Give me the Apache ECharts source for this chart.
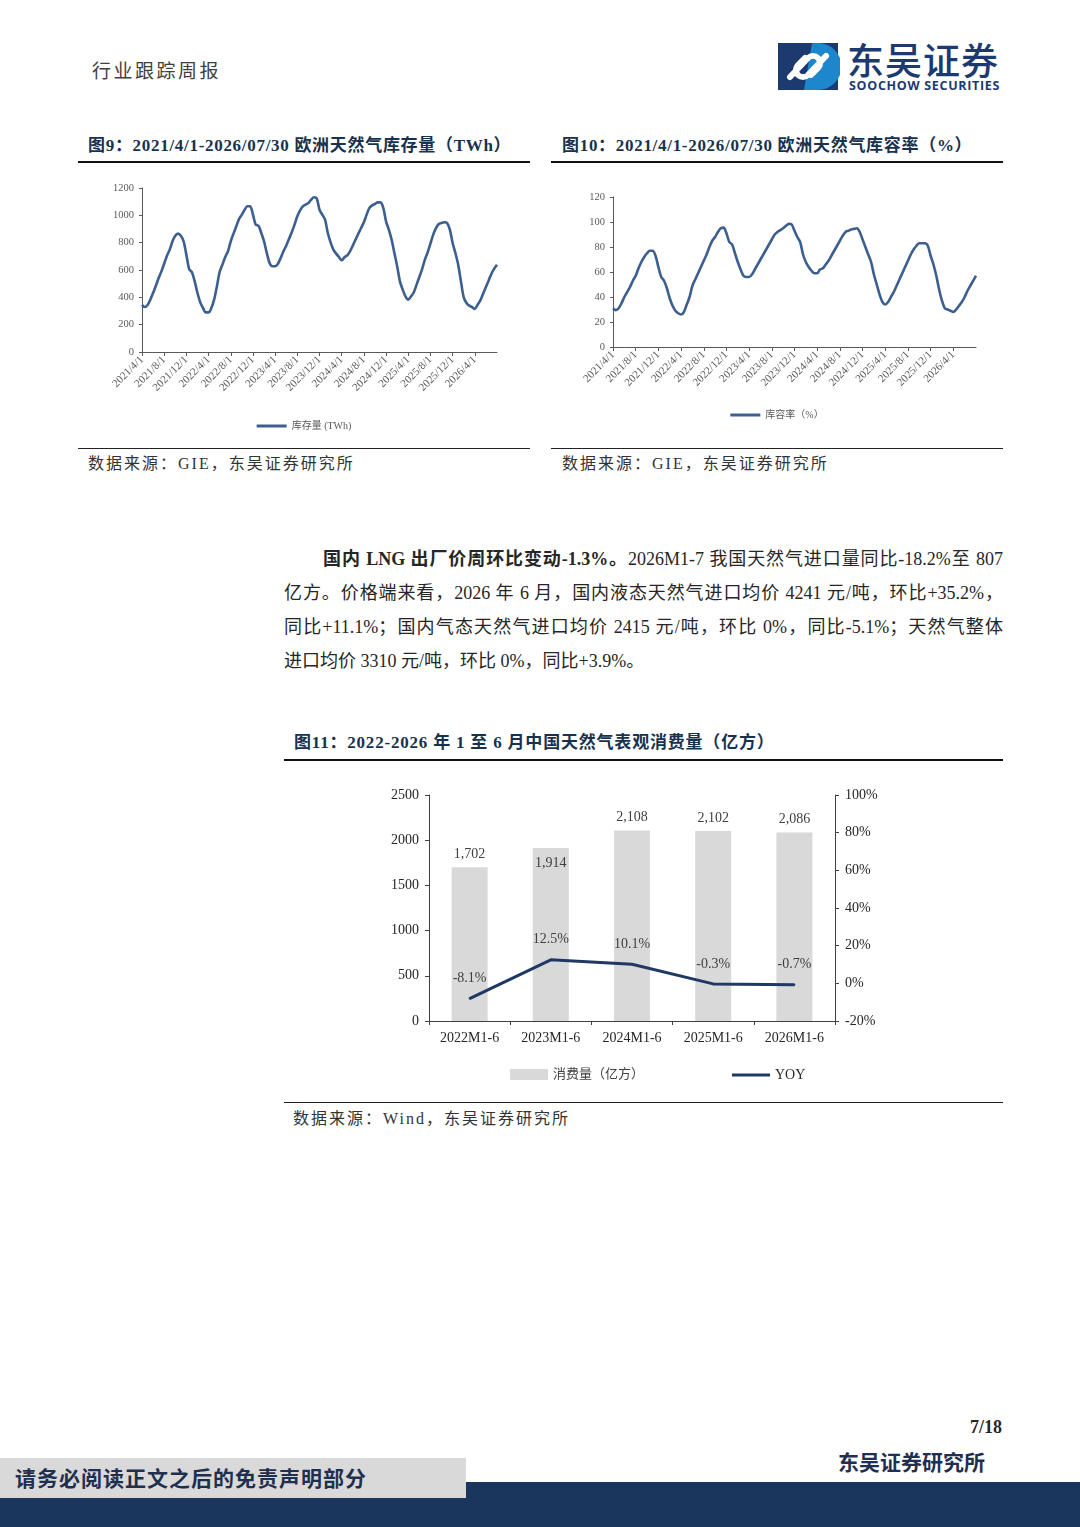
<!DOCTYPE html>
<html>
<head>
<meta charset="utf-8">
<script src="https://cdn.jsdelivr.net/npm/echarts@6/dist/echarts.min.js"></script>
<style>
  html, body { margin:0; padding:0; background:#fff; }
  body { width:1080px; height:1527px; position:relative; overflow:hidden;
         font-family:'Liberation Serif','Noto Sans CJK SC',serif; color:#262626; }
  .abs { position:absolute; }
  .title { font-size:17px; font-weight:bold; color:#17324f; white-space:nowrap; line-height:20px; letter-spacing:0.7px; }
  .src { font-size:16px; color:#333; white-space:nowrap; line-height:20px; letter-spacing:2px; }
  .rule2 { height:2px; background:#111; }
  .rule1 { height:1px; background:#222; }
  .pline { position:absolute; left:284px; width:719px; font-size:18px; line-height:34px; height:34px;
           white-space:nowrap; text-align:justify; text-align-last:justify; color:#262626; }
</style>
</head>
<body>
<!-- header -->
<div class="abs" style="left:92px;top:58px;font-size:19px;color:#404040;line-height:24px;letter-spacing:2.5px;font-family:'Noto Sans CJK SC',sans-serif;">行业跟踪周报</div>
<svg class="abs" style="left:778px;top:43px" width="62" height="48" viewBox="0 0 62 48">
  <rect x="0" y="0" width="60" height="47" fill="#1c3a70"/>
  <path d="M34 0 H40 A23.5 23.5 0 0 1 40 47 H26 Z" fill="#1e86cc"/>
  <path d="M12 34 L30 15 A7 7 0 0 1 40 25 L33 32" stroke="#fff" stroke-width="6" fill="none" stroke-linecap="round"/>
  <path d="M48 13 L30 32 A7 7 0 0 1 20 22 L27 15" stroke="#fff" stroke-width="6" fill="none" stroke-linecap="round"/>
</svg>
<div class="abs" style="left:847px;top:38px;font-size:37px;line-height:42px;color:#1c3a70;font-family:'Noto Sans CJK SC',sans-serif;font-weight:500;letter-spacing:1px;">东吴证券</div>
<div class="abs" style="left:849px;top:78px;font-size:12.5px;line-height:15px;color:#1c3a70;font-family:'Open Sans','DejaVu Sans',sans-serif;font-weight:bold;letter-spacing:0.7px;">SOOCHOW SECURITIES</div>

<!-- figure 9 -->
<div class="abs title" style="left:88px;top:136px;">图9：2021/4/1-2026/07/30 欧洲天然气库存量（TWh）</div>
<div class="abs rule2" style="left:78px;top:161px;width:452px;"></div>
<div id="c9" class="abs" style="left:78px;top:170px;width:452px;height:270px;"></div>
<div class="abs rule1" style="left:78px;top:448px;width:452px;"></div>
<div class="abs src" style="left:88px;top:454px;">数据来源：GIE，东吴证券研究所</div>

<!-- figure 10 -->
<div class="abs title" style="left:562px;top:136px;">图10：2021/4/1-2026/07/30 欧洲天然气库容率（%）</div>
<div class="abs rule2" style="left:551px;top:161px;width:452px;"></div>
<div id="c10" class="abs" style="left:551px;top:180px;width:452px;height:250px;"></div>
<div class="abs rule1" style="left:551px;top:448px;width:452px;"></div>
<div class="abs src" style="left:562px;top:454px;">数据来源：GIE，东吴证券研究所</div>

<!-- paragraph -->
<div class="pline" style="top:542px;padding-left:39px;width:680px;"><b>国内 LNG 出厂价周环比变动-1.3%。</b>2026M1-7 我国天然气进口量同比-18.2%至 807</div>
<div class="pline" style="top:576px;">亿方。价格端来看，2026 年 6 月，国内液态天然气进口均价 4241 元/吨，环比+35.2%，</div>
<div class="pline" style="top:610px;">同比+11.1%；国内气态天然气进口均价 2415 元/吨，环比 0%，同比-5.1%；天然气整体</div>
<div class="pline" style="top:644px;text-align:left;text-align-last:left;">进口均价 3310 元/吨，环比 0%，同比+3.9%。</div>

<!-- figure 11 -->
<div class="abs title" style="left:294px;top:733px;letter-spacing:0.8px;">图11：2022-2026 年 1 至 6 月中国天然气表观消费量（亿方）</div>
<div class="abs rule2" style="left:284px;top:759px;width:719px;"></div>
<div id="c11" class="abs" style="left:284px;top:770px;width:719px;height:325px;"></div>
<div class="abs rule1" style="left:284px;top:1102px;width:719px;"></div>
<div class="abs src" style="left:293px;top:1109px;">数据来源：Wind，东吴证券研究所</div>

<!-- footer -->
<div class="abs" style="left:960px;top:1416px;font-size:18px;font-weight:bold;line-height:22px;width:42px;text-align:right;">7/18</div>
<div class="abs" style="left:838px;top:1450px;font-size:21px;font-weight:bold;line-height:26px;color:#1f2f4f;">东吴证券研究所</div>
<div class="abs" style="left:0;top:1482px;width:1080px;height:45px;background:#1b365d;"></div>
<div class="abs" style="left:0;top:1458px;width:466px;height:40px;background:#d9d9d9;"></div>
<div class="abs" style="left:15px;top:1466px;font-size:21px;font-weight:bold;line-height:26px;color:#1f2f4f;letter-spacing:1px;">请务必阅读正文之后的免责声明部分</div>

<script>
// ---------- data ----------
// semi-monthly observations (1st and 16th of each month), 2021/4/1 .. 2026/7/30
var storageTWh = [346,329,344,383,432,485,541,590,646,705,
  749,810,851,866,851,810,712,607,583,517,
  432,363,322,290,290,322,383,480,585,639,
  695,737,810,866,920,973,1005,1041,1066,1066,
  1005,932,924,871,810,724,651,627,627,646,
  688,737,778,827,876,932,993,1037,1066,1078,
  1090,1115,1132,1124,1041,1005,968,871,802,749,
  720,695,671,693,707,737,778,822,866,907,
  949,1005,1054,1073,1083,1095,1095,1054,956,895,
  822,724,627,517,456,407,383,407,437,493,
  549,607,676,729,793,859,907,937,944,949,
  944,895,798,724,639,517,400,359,339,329,
  315,346,378,427,476,524,573,610,639];
var fillRatePct = [31,29.5,31,35,40,44,48,53,57,63,
  68,72,75,77,77,73,64,56,53,47,
  39,33,29,27,26,28,34,40,49,54,
  59,64,69,74,80,85,88,92,95,95.5,
  91,84,82,75,68,62,57,56,56,58,
  62,66,70,74,78,82,86,90,92,93.5,
  95,97,98.5,98,93,88,84,74,68,64,
  61,59,59,62,63,66,69,73,77,81,
  85,89,92,93,94,94.5,95,92,86,80,
  74,68,58,50,42,36,34,36,40,44,
  49,54,59,64,69,74,78,81,83,83,
  83,81,73,66,57,46,37,31,30,29,
  28,30,33,36,40,45,49,53,57];
var periods = ['2022M1-6','2023M1-6','2024M1-6','2025M1-6','2026M1-6'];
var consumption = [1702,1914,2108,2102,2086];
var yoyPct = [-8.1,12.5,10.1,-0.3,-0.7];

// date categories for the semi-monthly series
var dateCats = [];
(function(){
  var y = 2021, m = 4;
  while (!(y === 2026 && m === 8)) {
    dateCats.push(y + '/' + m + '/1');
    dateCats.push(y + '/' + m + '/16');
    m++; if (m > 12) { m = 1; y++; }
  }
  dateCats.push('2026/7/30');
})();

var SERIF = "'Liberation Serif','Noto Sans CJK SC',serif";
var GRAY = '#595959';
var plain = function(v){ return String(v); };
var showIdx = function(i){ return i % 8 === 0 && i < dateCats.length - 1; };

function seasonalOption(name, data, grid, yMax, yInt, legendTop) {
  return {
    animation:false,
    grid: grid,
    legend: { data:[name], top:legendTop, left:'center', icon:'rect', itemWidth:30, itemHeight:3,
      itemGap:4, textStyle:{ fontFamily:SERIF, fontSize:10, color:GRAY } },
    xAxis: { type:'category', data:dateCats, boundaryGap:false,
      axisLine:{ lineStyle:{ color:GRAY, width:1 } },
      axisTick:{ show:true, interval:function(i){ return showIdx(i); }, length:4, lineStyle:{ color:GRAY } },
      axisLabel:{ interval:function(i){ return showIdx(i); }, rotate:45, fontSize:11, color:GRAY,
        fontFamily:SERIF, margin:6 },
      splitLine:{ show:false } },
    yAxis: { type:'value', min:0, max:yMax, interval:yInt,
      axisLine:{ show:true, lineStyle:{ color:GRAY } },
      axisTick:{ show:true, length:3, lineStyle:{ color:GRAY } },
      axisLabel:{ fontSize:10.5, color:GRAY, fontFamily:SERIF, margin:8, formatter:plain },
      splitLine:{ show:false } },
    series: [{ name:name, type:'line', data:data, showSymbol:false, smooth:0.3,
      lineStyle:{ color:'#3d5f8f', width:2.6 }, itemStyle:{ color:'#3d5f8f' } }]
  };
}

var c9 = echarts.init(document.getElementById('c9'));
c9.setOption(seasonalOption('库存量 (TWh)', storageTWh,
  { left:64, top:18, right:33, bottom:88 }, 1200, 200, 246));

var c10 = echarts.init(document.getElementById('c10'));
c10.setOption(seasonalOption('库容率（%）', fillRatePct,
  { left:62, top:17, right:27, bottom:83 }, 120, 20, 225));

var c11 = echarts.init(document.getElementById('c11'));
var barData = consumption.map(function(v, i){
  return i === 1 ? { value:v, label:{ position:'insideTop', distance:8 } } : v;
});
c11.setOption({
  animation:false,
  grid:{ left:145, right:168, top:25, bottom:74 },
  legend:[
    { data:['消费量（亿方）'], left:221, top:293, icon:'rect', itemWidth:38, itemHeight:11, itemGap:2,
      textStyle:{ fontFamily:SERIF, fontSize:13, color:'#404040' } },
    { data:['YOY'], left:443, top:293, icon:'rect', itemWidth:38, itemHeight:3, itemGap:2,
      textStyle:{ fontFamily:SERIF, fontSize:14, color:'#262626' } }
  ],
  xAxis:{ type:'category', data:periods,
    axisLine:{ lineStyle:{ color:'#404040' } },
    axisTick:{ show:true, length:4, lineStyle:{ color:'#404040' } },
    axisLabel:{ fontFamily:SERIF, fontSize:14, color:'#262626', margin:10 } },
  yAxis:[
    { type:'value', min:0, max:2500, interval:500,
      axisLine:{ show:true, lineStyle:{ color:'#404040' } },
      axisTick:{ show:true, length:4, lineStyle:{ color:'#404040' } },
      axisLabel:{ fontFamily:SERIF, fontSize:14, color:'#262626', margin:10, formatter:plain },
      splitLine:{ show:false } },
    { type:'value', min:-20, max:100, interval:20, position:'right',
      axisLine:{ show:true, lineStyle:{ color:'#404040' } },
      axisTick:{ show:true, length:4, lineStyle:{ color:'#404040' } },
      axisLabel:{ fontFamily:SERIF, fontSize:14, color:'#262626', margin:10, formatter:'{value}%' },
      splitLine:{ show:false } }
  ],
  series:[
    { name:'消费量（亿方）', type:'bar', data:barData, barWidth:36,
      itemStyle:{ color:'#d9d9d9' },
      label:{ show:true, position:'top', distance:6, fontFamily:SERIF, fontSize:14, color:'#404040',
        formatter:function(p){ return p.value.toLocaleString('en-US'); } } },
    { name:'YOY', type:'line', yAxisIndex:1, data:yoyPct, symbol:'circle', symbolSize:2,
      lineStyle:{ color:'#1f3864', width:3 }, itemStyle:{ color:'#1f3864' },
      label:{ show:true, position:'top', distance:12, fontFamily:SERIF, fontSize:14, color:'#404040',
        formatter:function(p){ return p.value.toFixed(1) + '%'; } } }
  ]
});
</script>
</body>
</html>
